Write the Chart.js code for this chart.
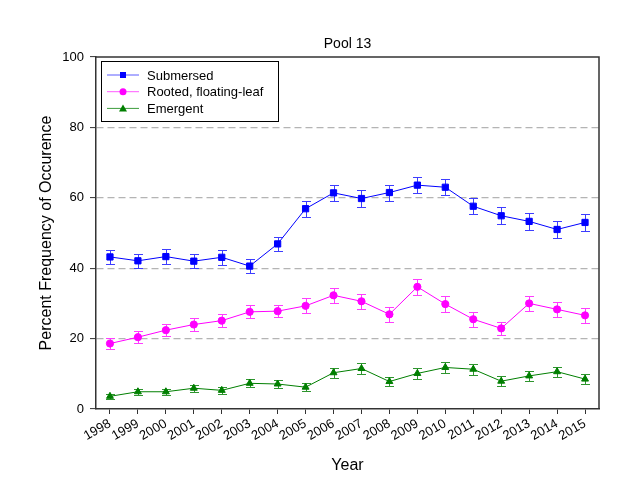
<!DOCTYPE html>
<html><head><meta charset="utf-8">
<script src="https://cdn.jsdelivr.net/npm/chart.js@4"></script>
<style>html,body{margin:0;padding:0;background:#fff}</style>
</head><body>
<canvas id="c" width="640" height="495"></canvas>
<script>
const years = ['1998','1999','2000','2001','2002','2003','2004','2005','2006','2007','2008','2009','2010','2011','2012','2013','2014','2015'];
const submersed = [43.2, 42.1, 43.3, 42.0, 43.1, 40.6, 46.9, 56.9, 61.4, 59.8, 61.5, 63.6, 63.0, 57.6, 54.9, 53.3, 51.0, 53.0];
const submersedErr = [2.1, 2.05, 2.1, 2.05, 2.1, 2.05, 2.0, 2.3, 2.3, 2.3, 2.27, 2.3, 2.27, 2.3, 2.37, 2.37, 2.3, 2.4];
const rooted = [18.6, 20.4, 22.4, 24.0, 25.1, 27.6, 27.8, 29.3, 32.3, 30.6, 26.9, 34.7, 29.8, 25.5, 22.9, 30.0, 28.3, 26.6];
const rootedErr = [1.65, 1.75, 1.8, 1.8, 1.85, 1.85, 1.8, 2.1, 2.2, 2.2, 2.2, 2.3, 2.2, 2.1, 1.95, 2.2, 2.15, 2.1];
const emergent = [3.6, 4.9, 4.9, 5.9, 5.3, 7.3, 7.1, 6.2, 10.3, 11.5, 7.8, 10.1, 11.8, 11.3, 7.9, 9.4, 10.6, 8.5];
const emergentErr = [0.75, 0.8, 0.8, 0.95, 0.95, 1.15, 1.0, 1.2, 1.4, 1.5, 1.35, 1.5, 1.5, 1.5, 1.35, 1.45, 1.45, 1.4];
const yTicks = [0, 20, 40, 60, 80, 100];
const seriesNames = ['Submersed', 'Rooted, floating-leaf', 'Emergent'];

const FONT = '"Liberation Sans", Arial, sans-serif';

const decor = {
  id: 'decor',
  beforeDatasetsDraw(chart) {
    const ctx = chart.ctx, xs = chart.scales.x, ys = chart.scales.y;
    chart.data.datasets.forEach((ds) => {
      ctx.save();
      ctx.strokeStyle = ds.errColor;
      ctx.lineWidth = 1;
      ds.data.forEach((v, j) => {
        const px = Math.round(xs.getPixelForValue(j)) + 0.5;
        const yt = Math.round(ys.getPixelForValue(v + ds.err[j])) + 0.5;
        const yb = Math.round(ys.getPixelForValue(v - ds.err[j])) + 0.5;
        ctx.beginPath();
        ctx.moveTo(px, yt); ctx.lineTo(px, yb);
        ctx.moveTo(px - 4.5, yt); ctx.lineTo(px + 4.5, yt);
        ctx.moveTo(px - 4.5, yb); ctx.lineTo(px + 4.5, yb);
        ctx.stroke();
      });
      ctx.restore();
    });
  },
  afterDraw(chart) {
    const ctx = chart.ctx, a = chart.chartArea;
    ctx.save();
    // top and right frame
    ctx.strokeStyle = '#333';
    ctx.lineWidth = 1.5;
    ctx.beginPath();
    ctx.moveTo(a.left, a.top); ctx.lineTo(a.right, a.top); ctx.lineTo(a.right, a.bottom);
    ctx.stroke();
    // title
    ctx.fillStyle = '#000';
    ctx.textAlign = 'center';
    ctx.textBaseline = 'middle';
    ctx.font = '14px ' + FONT;
    ctx.fillText('Pool 13', (a.left + a.right) / 2, 44);
    // axis titles
    ctx.font = '16px ' + FONT;
    ctx.fillText('Year', (a.left + a.right) / 2, 466);
    ctx.save();
    ctx.translate(47, (a.top + a.bottom) / 2);
    ctx.rotate(-Math.PI / 2);
    ctx.fillText('Percent Frequency of Occurence', 0, 0);
    ctx.restore();
    // legend
    const lx = a.left + 5, ly = a.top + 4;
    ctx.strokeStyle = '#000';
    ctx.lineWidth = 1;
    ctx.strokeRect(lx + 0.5, ly + 0.5, 177, 60);
    ctx.font = '13px ' + FONT;
    ctx.textAlign = 'left';
    chart.data.datasets.forEach((ds, i) => {
      const yy = ly + 14 + i * 16.7;
      ctx.strokeStyle = ds.legendLine;
      ctx.lineWidth = 1;
      ctx.beginPath();
      ctx.moveTo(lx + 6, yy); ctx.lineTo(lx + 38, yy);
      ctx.stroke();
      ctx.fillStyle = ds.borderColor;
      const cx = lx + 22;
      ctx.beginPath();
      if (ds.pointStyle === 'rect') {
        ctx.rect(cx - 3, yy - 3, 6, 6);
      } else if (ds.pointStyle === 'circle') {
        ctx.arc(cx, yy, 3.5, 0, Math.PI * 2);
      } else {
        ctx.moveTo(cx, yy - 4); ctx.lineTo(cx + 4, yy + 3); ctx.lineTo(cx - 4, yy + 3); ctx.closePath();
      }
      ctx.fill();
      ctx.fillStyle = '#000';
      ctx.fillText(ds.label, lx + 46, yy + 1);
    });
    ctx.restore();
  }
};

new Chart(document.getElementById('c'), {
  type: 'line',
  data: {
    labels: years,
    datasets: [
      { label: seriesNames[0], data: submersed, err: submersedErr, borderColor: '#0000ff', backgroundColor: '#0000ff',
        errColor: '#3d3dff', legendLine: '#5c5cff', pointStyle: 'rect', pointRadius: 4.4, borderWidth: 1 },
      { label: seriesNames[1], data: rooted, err: rootedErr, borderColor: '#ff00ff', backgroundColor: '#ff00ff',
        errColor: '#ff3dff', legendLine: '#ff5cff', pointStyle: 'circle', pointRadius: 3.6, borderWidth: 1 },
      { label: seriesNames[2], data: emergent, err: emergentErr, borderColor: '#007f00', backgroundColor: '#007f00',
        errColor: '#2e952e', legendLine: '#3c9c3c', pointStyle: 'triangle', pointRadius: 4, borderWidth: 1 }
    ]
  },
  options: {
    responsive: false,
    animation: false,
    devicePixelRatio: 1,
    layout: { padding: { top: 57, right: 41, left: 0, bottom: 0 } },
    plugins: { legend: { display: false }, title: { display: false }, tooltip: { enabled: false } },
    elements: { line: { tension: 0 }, point: { borderWidth: 0, hoverRadius: 0 } },
    scales: {
      x: {
        type: 'category',
        offset: true,
        afterFit(s) { s.height = 86; },
        grid: { offset: false, drawOnChartArea: false, tickLength: 5, tickColor: '#333', tickWidth: 1 },
        border: { color: '#333', width: 1.5 },
        ticks: { color: '#000', font: { family: FONT, size: 13 }, minRotation: 30, maxRotation: 30, padding: 2, autoSkip: false }
      },
      y: {
        min: 0, max: 100,
        afterFit(s) { s.width = 96; },
        afterBuildTicks(s) { s.ticks = yTicks.map(v => ({ value: v })); },
        grid: {
          color: (c) => (c.tick && (c.tick.value === 0 || c.tick.value === 100)) ? 'rgba(0,0,0,0)' : '#b4b4b4',
          lineWidth: 1.2,
          tickLength: 6, tickColor: '#333', tickWidth: 1, tickBorderDash: []
        },
        border: { color: '#333', width: 1.5, dash: [7, 4] },
        ticks: { color: '#000', font: { family: FONT, size: 13 }, padding: 6 }
      }
    }
  },
  plugins: [decor]
});
</script>
</body></html>
